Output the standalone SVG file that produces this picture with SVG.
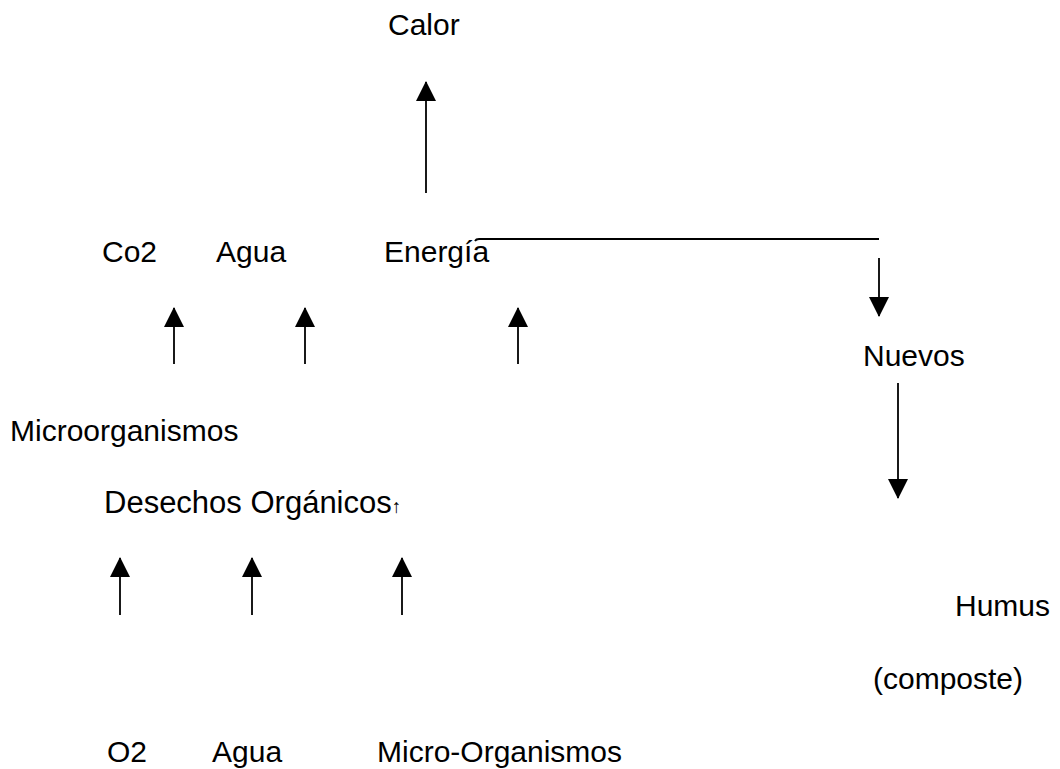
<svg xmlns="http://www.w3.org/2000/svg" width="1060" height="769" viewBox="0 0 1060 769">
<style>
text{font-family:"Liberation Sans",Arial,sans-serif;font-size:30px;fill:#000}
.c line,.c path{stroke:#000;stroke-width:1.8;fill:none}
.a{marker-end:url(#ah)}
</style>
<defs>
<marker id="ah" markerUnits="userSpaceOnUse" markerWidth="20" markerHeight="20" viewBox="0 0 20 20" refX="19" refY="10" orient="auto">
<path d="M0,0 L20,10 L0,20 z" fill="#000"/>
</marker>
</defs>
<rect width="1060" height="769" fill="#fff"/>
<g id="calor"><text x="388" y="35">Calor</text></g>
<g id="co2"><text x="102" y="262">Co2</text></g>
<g id="agua1"><text x="216" y="262">Agua</text></g>
<g id="energia"><text x="384" y="262">Energía</text></g>
<g id="nuevos"><text x="863" y="366">Nuevos</text></g>
<g id="microorganismos"><text x="10" y="441">Microorganismos</text></g>
<g id="desechos"><text x="104" y="513" style="font-size:31px">Desechos Orgánicos<tspan style="font-size:19px">↑</tspan></text></g>
<g id="humus"><text x="955" y="616">Humus</text></g>
<g id="composte"><text x="873" y="689">(composte)</text></g>
<g id="o2"><text x="107" y="762">O2</text></g>
<g id="agua2"><text x="212" y="762">Agua</text></g>
<g id="microorg2"><text x="377" y="762">Micro-Organismos</text></g>
<g id="connectors" class="c">
<line class="a" x1="426" y1="193" x2="426" y2="82"/>
<line class="a" x1="174" y1="364" x2="174" y2="308"/>
<line class="a" x1="305" y1="364" x2="305" y2="308"/>
<line class="a" x1="518" y1="364" x2="518" y2="308"/>
<line class="a" x1="120" y1="615" x2="120" y2="558"/>
<line class="a" x1="252" y1="615" x2="252" y2="558"/>
<line class="a" x1="402" y1="615" x2="402" y2="558"/>
<path d="M475,241 Q476,239 479,239 L879,239"/>
<line class="a" x1="879" y1="258" x2="879" y2="316"/>
<line class="a" x1="898" y1="383" x2="898" y2="498"/>
</g>
</svg>
